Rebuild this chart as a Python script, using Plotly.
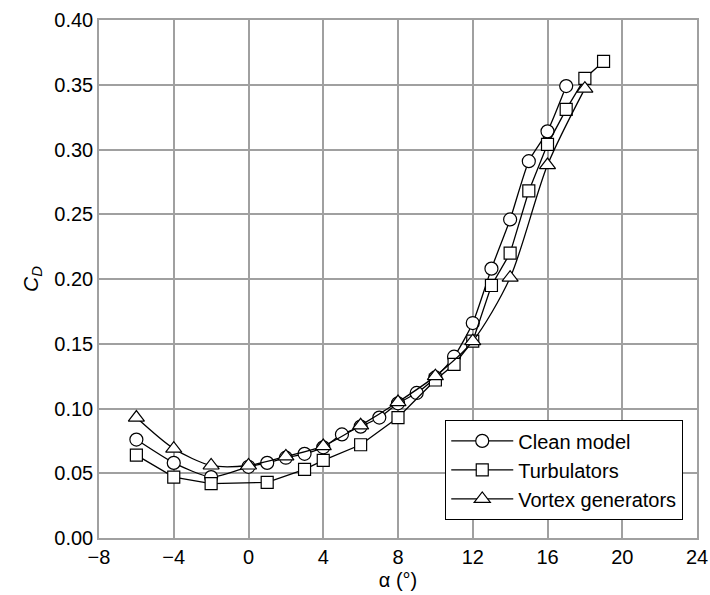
import plotly.graph_objects as go

clean_x = [-6, -4, -2, 0, 1, 2, 3, 4, 5, 6, 7, 8, 9, 10, 11, 12, 13, 14, 15, 16, 17]
clean_y = [0.076, 0.058, 0.047, 0.055, 0.058, 0.062, 0.065, 0.070, 0.080, 0.086, 0.093,
           0.104, 0.112, 0.124, 0.140, 0.166, 0.208, 0.246, 0.291, 0.314, 0.349]

turb_x = [-6, -4, -2, 1, 3, 4, 6, 8, 10, 11, 12, 13, 14, 15, 16, 17, 18, 19]
turb_y = [0.064, 0.047, 0.042, 0.043, 0.053, 0.060, 0.072, 0.093, 0.122, 0.134, 0.152,
          0.195, 0.220, 0.268, 0.304, 0.331, 0.355, 0.368]

vg_x = [-6, -4, -2, 0, 2, 4, 6, 8, 10, 12, 14, 16, 18]
vg_y = [0.093, 0.069, 0.056, 0.056, 0.063, 0.071, 0.087, 0.105, 0.125, 0.152, 0.201, 0.288, 0.347]

series_names = ["Clean model", "Turbulators", "Vortex generators"]

x_ticks = [-8, -4, 0, 4, 8, 12, 16, 20, 24]
y_ticks = [0.00, 0.05, 0.10, 0.15, 0.20, 0.25, 0.30, 0.35, 0.40]

fig = go.Figure()

fig.add_trace(go.Scatter(
    x=clean_x, y=clean_y, name=series_names[0], mode="lines+markers",
    line=dict(color="black", width=1.3, shape="spline", smoothing=0.6),
    marker=dict(symbol="circle", size=13, color="white", line=dict(color="black", width=1.2)),
))
fig.add_trace(go.Scatter(
    x=turb_x, y=turb_y, name=series_names[1], mode="lines+markers",
    line=dict(color="black", width=1.3),
    marker=dict(symbol="square", size=12, color="white", line=dict(color="black", width=1.2)),
))
fig.add_trace(go.Scatter(
    x=vg_x, y=vg_y, name=series_names[2], mode="lines+markers",
    line=dict(color="black", width=1.3, shape="spline", smoothing=0.8),
    marker=dict(symbol="triangle-up", size=14, color="white", line=dict(color="black", width=1.2)),
))

grid_col = "#a0a0a0"
fig.update_layout(
    width=710, height=595,
    margin=dict(l=99, r=13, t=20, b=57, autoexpand=False),
    paper_bgcolor="white", plot_bgcolor="white",
    font=dict(family="Liberation Sans, Arial, sans-serif", size=20, color="black"),
    showlegend=True,
    legend=dict(
        x=0.9765, y=0.0346, xanchor="right", yanchor="bottom",
        bgcolor="white", bordercolor="black", borderwidth=1.3,
        font=dict(size=20), tracegroupgap=0, itemwidth=62,
    ),
    xaxis=dict(
        range=[-8, 24], tickvals=x_ticks, ticktext=[str(v).replace("-", "\u2212") for v in x_ticks],
        showgrid=True, gridcolor=grid_col, gridwidth=1.5,
        showline=True, linecolor=grid_col, linewidth=1.5, mirror=True,
        zeroline=False, ticks="", ticklen=0, automargin=False,
        title=dict(text="\u03b1 (\u00b0)", standoff=6, font=dict(size=20)),
    ),
    yaxis=dict(
        range=[0, 0.40], tickvals=y_ticks, ticktext=[f"{v:.2f}" for v in y_ticks],
        showgrid=True, gridcolor=grid_col, gridwidth=1.5,
        showline=True, linecolor=grid_col, linewidth=1.5, mirror=True,
        zeroline=False, ticks="", automargin=False,
        title=dict(text="<i>C<sub>D</sub></i>", standoff=10, font=dict(size=21)),
    ),
)

fig.write_html(
    "out.html",
    config={"displayModeBar": False},
    post_script="document.body.style.margin='0';document.body.style.overflow='hidden';",
)
